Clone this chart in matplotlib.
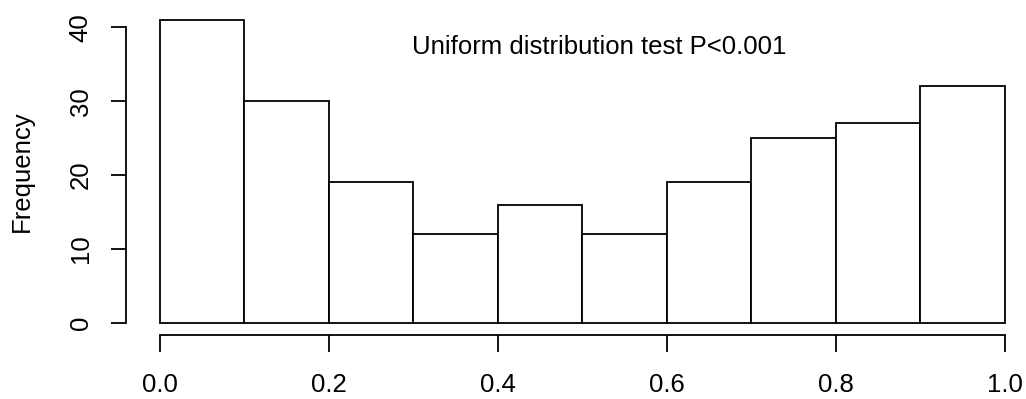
import numpy as np
import matplotlib
matplotlib.use("Agg")
import matplotlib.pyplot as plt

plt.rcParams['font.family'] = ['Liberation Sans', 'DejaVu Sans']

# histogram of p-values, 10 equal bins on [0, 1]
breaks = [0.0, 0.1, 0.2, 0.3, 0.4, 0.5, 0.6, 0.7, 0.8, 0.9, 1.0]
counts = [41, 30, 19, 12, 16, 12, 19, 25, 27, 32]
xticks = [0.0, 0.2, 0.4, 0.6, 0.8, 1.0]
yticks = [0, 10, 20, 30, 40]
note = "Uniform distribution test P<0.001"

W, H = 1026, 399
fig = plt.figure(figsize=(W / 100, H / 100), dpi=100)

# plot region in pixels (R-style, 4% padding around data range)
left, right, top, bottom = 126, 1038.8, 7.8, 335
ax = fig.add_axes([left / W, (H - bottom) / H, (right - left) / W, (bottom - top) / H])

lw = 1.3
fs = 18.5
edges = np.array(breaks)
ax.bar(edges[:-1], counts, width=np.diff(edges), align='edge',
       facecolor='white', edgecolor='black', linewidth=lw)

ax.set_xlim(-0.04, 1.04)
ax.set_ylim(-0.04 * 41, 41 * 1.04)

for s in ['top', 'right']:
    ax.spines[s].set_visible(False)
ax.spines['left'].set_bounds(0, 40)
ax.spines['bottom'].set_bounds(0, 1)
for s in ['left', 'bottom']:
    ax.spines[s].set_linewidth(lw)

ax.set_xticks(xticks)
ax.set_xticklabels(["%.1f" % v for v in xticks], fontsize=fs)
ax.set_yticks(yticks)
ax.set_yticklabels([str(v) for v in yticks], fontsize=fs, rotation=90, va='center')
ax.tick_params(axis='x', length=12, width=lw, pad=15.5)
ax.tick_params(axis='y', length=11, width=lw, pad=13)

fig.text(22 / W, 1 - 171 / H, "Frequency", rotation=90, ha='center', va='center',
         fontsize=fs)
ax.text(0.52, 37.3, note, ha='center', va='center', fontsize=fs)

fig.savefig("out.png", dpi=100)
